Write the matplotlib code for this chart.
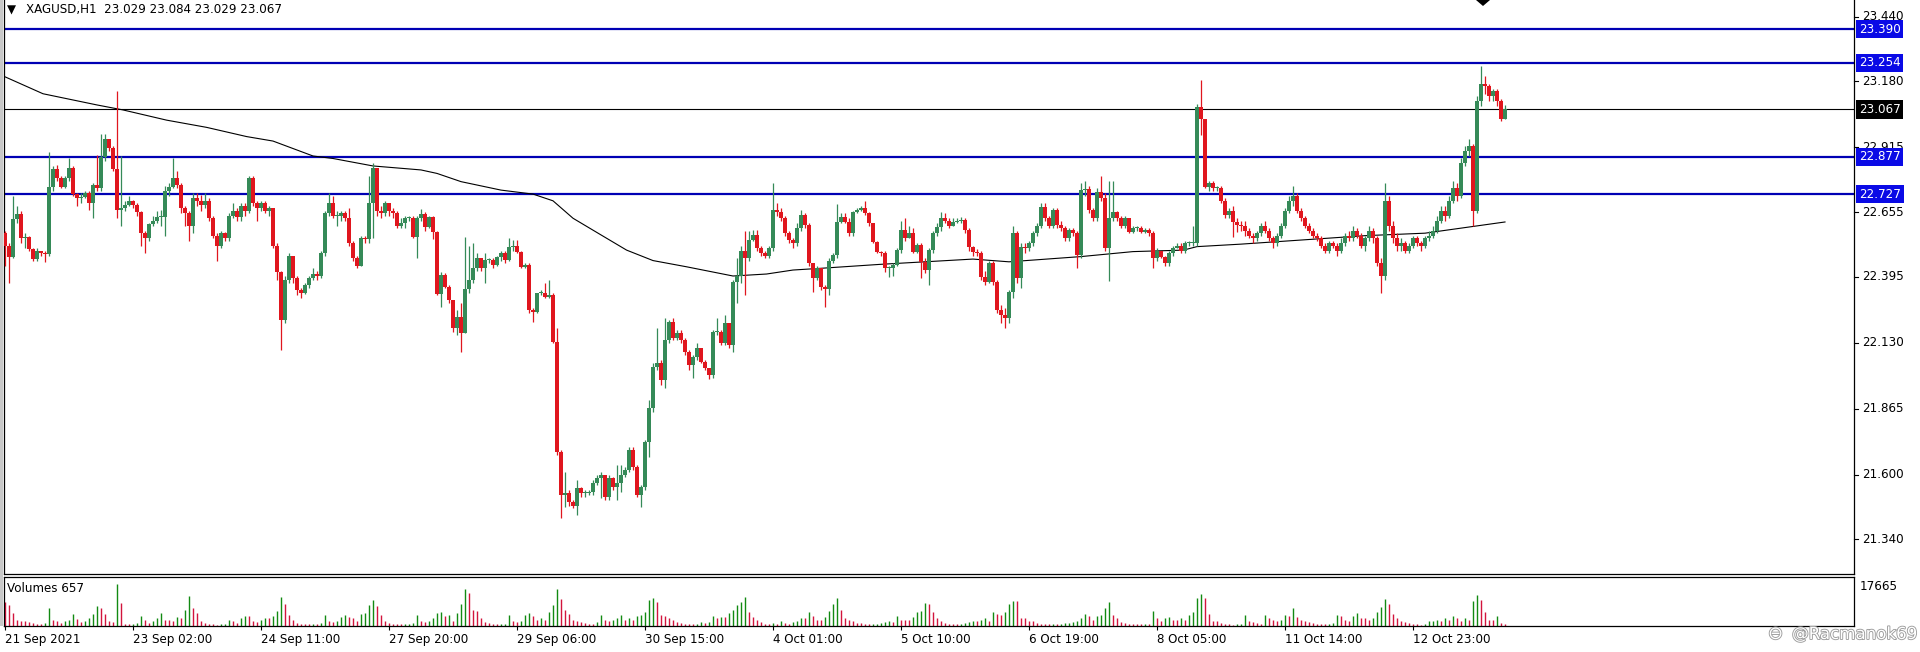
import numpy as np
import matplotlib
matplotlib.use('Agg')
import matplotlib.pyplot as plt
from matplotlib.patches import Rectangle, Polygon
from matplotlib.transforms import blended_transform_factory
import matplotlib.patheffects as pe

plt.rcParams['font.family'] = ['DejaVu Sans']

# ---- data (XAGUSD H1) ----
first_open = 22.57
closes = [
    22.52, 22.475, 22.625, 22.647, 22.55, 22.555, 22.505, 22.465, 22.50, 22.49,
    22.485, 22.754, 22.826, 22.79, 22.757, 22.79, 22.83, 22.727, 22.71, 22.716,
    22.73, 22.69, 22.763, 22.75, 22.874, 22.948, 22.913, 22.826, 22.663, 22.67,
    22.685, 22.70, 22.685, 22.655, 22.57, 22.55, 22.606, 22.62, 22.635, 22.635,
    22.74, 22.757, 22.79, 22.763, 22.67, 22.65, 22.60, 22.71, 22.70, 22.685,
    22.70, 22.63, 22.56, 22.52, 22.57, 22.55, 22.64, 22.66, 22.635, 22.68,
    22.66, 22.79, 22.69, 22.67, 22.69, 22.66, 22.67, 22.52, 22.415, 22.22,
    22.38, 22.48, 22.39, 22.34, 22.33, 22.36, 22.39, 22.405, 22.40, 22.49,
    22.65, 22.69, 22.64, 22.64, 22.65, 22.63, 22.53, 22.47, 22.44, 22.55,
    22.545, 22.69, 22.83, 22.66, 22.65, 22.69, 22.66, 22.65, 22.60, 22.61,
    22.63, 22.63, 22.556, 22.629, 22.647, 22.593, 22.636, 22.576, 22.326, 22.402,
    22.355, 22.302, 22.188, 22.235, 22.17, 22.344, 22.381, 22.429, 22.469, 22.429,
    22.462, 22.462, 22.442, 22.473, 22.49, 22.462, 22.513, 22.52, 22.496, 22.435,
    22.442, 22.261, 22.254, 22.328, 22.33, 22.312, 22.32, 22.134, 21.69, 21.518,
    21.528, 21.492, 21.474, 21.545, 21.525, 21.525, 21.532, 21.565, 21.585, 21.598,
    21.512, 21.585, 21.552, 21.565, 21.598, 21.618, 21.699, 21.632, 21.518, 21.552,
    21.733, 21.866, 22.034, 22.047, 21.98, 22.141, 22.215, 22.148, 22.17, 22.14,
    22.094, 22.04, 22.074, 22.107, 22.054, 22.027, 22.00, 22.174, 22.174, 22.128,
    22.208, 22.121, 22.375, 22.40, 22.50, 22.47, 22.543, 22.563, 22.51, 22.49,
    22.48, 22.51, 22.663, 22.655, 22.63, 22.57, 22.543, 22.53, 22.59, 22.643,
    22.603, 22.449, 22.389, 22.429, 22.355, 22.345, 22.46, 22.482, 22.616, 22.636,
    22.616, 22.57, 22.656, 22.663, 22.67, 22.65, 22.61, 22.536, 22.496, 22.49,
    22.429, 22.43, 22.442, 22.502, 22.583, 22.55, 22.57, 22.496, 22.522, 22.455,
    22.422, 22.502, 22.569, 22.596, 22.63, 22.62, 22.60, 22.616, 22.62, 22.623,
    22.583, 22.516, 22.496, 22.49, 22.395, 22.375, 22.449, 22.375, 22.262, 22.24,
    22.23, 22.335, 22.57, 22.39, 22.515, 22.51, 22.53, 22.57, 22.60, 22.676,
    22.63, 22.60, 22.663, 22.603, 22.59, 22.55, 22.583, 22.57, 22.483, 22.743,
    22.748, 22.663, 22.63, 22.737, 22.71, 22.51, 22.63, 22.656, 22.63, 22.60,
    22.63, 22.576, 22.59, 22.59, 22.576, 22.583, 22.57, 22.47, 22.50, 22.476,
    22.45, 22.49, 22.51, 22.52, 22.50, 22.53, 22.53, 22.53, 23.078, 23.03,
    22.757, 22.77, 22.75, 22.75, 22.70, 22.643, 22.66, 22.616, 22.603, 22.60,
    22.58, 22.56, 22.55, 22.57, 22.60, 22.58, 22.55, 22.53, 22.56, 22.60,
    22.66, 22.70, 22.72, 22.66, 22.63, 22.60, 22.58, 22.56, 22.55, 22.52,
    22.50, 22.53, 22.52, 22.50, 22.53, 22.56, 22.55, 22.58, 22.56, 22.52,
    22.55, 22.58, 22.55, 22.45, 22.40, 22.70, 22.60, 22.55, 22.52, 22.53,
    22.50, 22.52, 22.55, 22.53, 22.52, 22.55, 22.56, 22.58, 22.62, 22.66,
    22.64, 22.70, 22.75, 22.72, 22.85, 22.90, 22.92, 22.66, 23.10, 23.17,
    23.16, 23.12, 23.14, 23.10, 23.029, 23.067,
]
highs = [
    22.58, 22.53, 22.72, 22.68, 22.66, 22.57, 22.56, 22.51, 22.51, 22.50,
    22.50, 22.897, 22.84, 22.845, 22.80, 22.80, 22.87, 22.84, 22.73, 22.73,
    22.74, 22.74, 22.77, 22.884, 22.97, 22.97, 22.95, 22.92, 23.14, 22.88,
    22.70, 22.72, 22.705, 22.69, 22.66, 22.58, 22.61, 22.64, 22.66, 22.665,
    22.76, 22.77, 22.873, 22.82, 22.77, 22.68, 22.66, 22.73, 22.73, 22.725,
    22.73, 22.71, 22.64, 22.57, 22.58, 22.575, 22.65, 22.69, 22.67, 22.69,
    22.69, 22.80, 22.80, 22.70, 22.70, 22.70, 22.68, 22.67, 22.53, 22.42,
    22.40, 22.49, 22.48, 22.40, 22.35, 22.37, 22.40, 22.43, 22.42, 22.50,
    22.66, 22.73, 22.72, 22.66, 22.66, 22.66, 22.67, 22.54, 22.48, 22.56,
    22.56, 22.80, 22.85, 22.82, 22.68, 22.70, 22.69, 22.67, 22.66, 22.63,
    22.64, 22.64, 22.64, 22.64, 22.666, 22.656, 22.64, 22.64, 22.58, 22.415,
    22.41, 22.36, 22.30, 22.261, 22.29, 22.556, 22.518, 22.529, 22.489, 22.47,
    22.489, 22.47, 22.47, 22.48, 22.50, 22.50, 22.549, 22.542, 22.542, 22.50,
    22.45, 22.45, 22.27, 22.33, 22.34, 22.368, 22.38, 22.33, 22.188, 21.70,
    21.61, 21.54, 21.50, 21.58, 21.55, 21.54, 21.54, 21.58, 21.60, 21.61,
    21.60, 21.60, 21.59, 21.64, 21.64, 21.63, 21.71, 21.71, 21.64, 21.56,
    21.74, 21.90, 22.048, 22.19, 22.06, 22.23, 22.22, 22.23, 22.18, 22.18,
    22.15, 22.10, 22.08, 22.13, 22.11, 22.06, 22.03, 22.18, 22.23, 22.18,
    22.24, 22.21, 22.38, 22.47, 22.52, 22.58, 22.58, 22.584, 22.584, 22.52,
    22.50, 22.52, 22.77, 22.69, 22.67, 22.64, 22.58, 22.55, 22.61, 22.665,
    22.65, 22.61, 22.45, 22.44, 22.43, 22.36, 22.47, 22.49, 22.686, 22.65,
    22.65, 22.63, 22.66, 22.67, 22.68, 22.70, 22.655, 22.61, 22.54, 22.50,
    22.50, 22.44, 22.45, 22.51, 22.62, 22.63, 22.60, 22.59, 22.53, 22.53,
    22.47, 22.51, 22.58, 22.61, 22.656, 22.65, 22.63, 22.63, 22.63, 22.635,
    22.63, 22.59, 22.52, 22.505, 22.50, 22.42, 22.46, 22.46, 22.38, 22.28,
    22.27, 22.34, 22.60, 22.58, 22.53, 22.53, 22.54, 22.58, 22.61, 22.69,
    22.69, 22.64, 22.67, 22.67, 22.62, 22.60, 22.59, 22.59, 22.58, 22.77,
    22.78, 22.76, 22.67, 22.75, 22.80, 22.73, 22.78, 22.78, 22.66, 22.64,
    22.64, 22.63, 22.60, 22.60, 22.60, 22.59, 22.59, 22.58, 22.51, 22.50,
    22.48, 22.50, 22.52, 22.53, 22.53, 22.54, 22.54, 22.60, 23.09, 23.185,
    23.03, 22.78, 22.78, 22.76, 22.76, 22.71, 22.67, 22.68, 22.63, 22.62,
    22.62, 22.59, 22.57, 22.58, 22.61, 22.62, 22.59, 22.56, 22.57, 22.61,
    22.67, 22.72, 22.76, 22.73, 22.67, 22.64, 22.61, 22.59, 22.57, 22.56,
    22.53, 22.54, 22.54, 22.53, 22.55, 22.57, 22.58, 22.60, 22.59, 22.57,
    22.56, 22.60, 22.59, 22.56, 22.47, 22.77, 22.72, 22.62, 22.57, 22.55,
    22.54, 22.53, 22.56, 22.56, 22.54, 22.56, 22.58, 22.60, 22.64, 22.68,
    22.68, 22.72, 22.78, 22.77, 22.87, 22.92, 22.95, 22.93, 23.12, 23.24,
    23.20, 23.17, 23.15, 23.15, 23.11, 23.084,
]
lows = [
    22.44, 22.37, 22.47, 22.61, 22.53, 22.51, 22.50, 22.46, 22.46, 22.48,
    22.455, 22.48, 22.74, 22.78, 22.75, 22.75, 22.78, 22.72, 22.68, 22.69,
    22.71, 22.665, 22.63, 22.74, 22.74, 22.86, 22.90, 22.82, 22.63, 22.60,
    22.66, 22.68, 22.67, 22.64, 22.52, 22.49, 22.54, 22.60, 22.61, 22.60,
    22.56, 22.72, 22.75, 22.75, 22.65, 22.60, 22.54, 22.57, 22.68, 22.66,
    22.67, 22.62, 22.55, 22.46, 22.51, 22.54, 22.54, 22.63, 22.62, 22.62,
    22.64, 22.65, 22.68, 22.62, 22.66, 22.65, 22.64, 22.51, 22.38, 22.10,
    22.21, 22.37, 22.37, 22.32, 22.31, 22.325, 22.35, 22.38, 22.38, 22.39,
    22.48, 22.64, 22.63, 22.60, 22.62, 22.62, 22.52, 22.46, 22.43, 22.44,
    22.53, 22.53, 22.55, 22.64, 22.63, 22.64, 22.64, 22.63, 22.59, 22.59,
    22.59, 22.62, 22.55, 22.469, 22.62, 22.58, 22.59, 22.545, 22.32, 22.272,
    22.35, 22.29, 22.174, 22.161, 22.094, 22.174, 22.33, 22.37, 22.42, 22.42,
    22.371, 22.45, 22.43, 22.44, 22.46, 22.45, 22.46, 22.50, 22.49, 22.43,
    22.43, 22.248, 22.214, 22.25, 22.32, 22.31, 22.31, 22.13, 21.68, 21.425,
    21.47, 21.474, 21.465, 21.44, 21.51, 21.51, 21.52, 21.52, 21.56, 21.505,
    21.50, 21.50, 21.54, 21.50, 21.53, 21.59, 21.61, 21.62, 21.51, 21.47,
    21.54, 21.67, 21.85, 22.02, 21.96, 21.95, 22.13, 22.14, 22.14, 22.13,
    22.08, 22.02, 21.99, 22.06, 22.05, 22.02, 21.985, 21.99, 22.16, 22.12,
    22.12, 22.11, 22.093, 22.29, 22.37, 22.32, 22.46, 22.54, 22.50, 22.48,
    22.47, 22.47, 22.50, 22.64, 22.62, 22.56, 22.53, 22.51, 22.52, 22.58,
    22.59, 22.44, 22.335, 22.38, 22.34, 22.275, 22.32, 22.45, 22.47, 22.61,
    22.61, 22.56, 22.56, 22.65, 22.66, 22.645, 22.60, 22.53, 22.49, 22.48,
    22.415, 22.395, 22.40, 22.44, 22.49, 22.54, 22.55, 22.49, 22.49, 22.39,
    22.41, 22.36, 22.49, 22.56, 22.58, 22.61, 22.59, 22.60, 22.61, 22.61,
    22.57, 22.50, 22.48, 22.48, 22.38, 22.36, 22.37, 22.36, 22.25, 22.21,
    22.19, 22.21, 22.31, 22.37, 22.35, 22.49, 22.50, 22.52, 22.56, 22.59,
    22.62, 22.59, 22.59, 22.59, 22.58, 22.54, 22.54, 22.56, 22.43, 22.47,
    22.72, 22.65, 22.62, 22.62, 22.70, 22.50, 22.376, 22.62, 22.62, 22.59,
    22.59, 22.57, 22.57, 22.58, 22.57, 22.57, 22.56, 22.43, 22.46, 22.47,
    22.44, 22.44, 22.48, 22.51, 22.49, 22.49, 22.52, 22.52, 22.52, 22.965,
    22.75, 22.74, 22.74, 22.74, 22.69, 22.63, 22.63, 22.555, 22.575, 22.58,
    22.56, 22.55, 22.53, 22.54, 22.56, 22.57, 22.54, 22.51, 22.52, 22.55,
    22.59, 22.65, 22.68, 22.65, 22.62, 22.59, 22.57, 22.55, 22.54, 22.51,
    22.49, 22.49, 22.51, 22.48, 22.49, 22.52, 22.54, 22.54, 22.55, 22.51,
    22.50, 22.54, 22.53, 22.44, 22.33, 22.38, 22.58, 22.53, 22.50, 22.50,
    22.49, 22.49, 22.51, 22.52, 22.50, 22.51, 22.54, 22.55, 22.57, 22.61,
    22.62, 22.63, 22.69, 22.70, 22.71, 22.84, 22.88, 22.60, 22.65, 23.08,
    23.13, 23.10, 23.10, 23.08, 23.02, 23.029,
]
volumes = [
    9000, 7800, 4800, 2400, 2000, 1800, 1500, 1200, 900, 800,
    1000, 6600, 2400, 1800, 1200, 1800, 2400, 4400, 2800, 1500,
    2000, 3000, 4400, 7440, 6600, 4440, 1800, 1500, 15840, 8640,
    800, 600, 900, 1200, 3600, 2400, 1200, 1800, 3000, 4700,
    2400, 2400, 1800, 3240, 3000, 6000, 11160, 6600, 4800, 1800,
    1200, 900, 600, 500, 700, 900, 2400, 1800, 1200, 3000,
    3600, 3600, 2000, 1500, 2400, 3000, 3000, 3600, 5640, 10800,
    8400, 4200, 2400, 1200, 900, 700, 600, 800, 600, 1000,
    4200, 2000, 1500, 1800, 3240, 4000, 3240, 3000, 2000, 4440,
    5000, 7800, 9600, 7440, 4200, 1800, 1200, 900, 700, 600,
    800, 900, 1200, 4200, 2000, 1500, 1800, 3000, 4800, 5160,
    3600, 4200, 2000, 5000, 8400, 13800, 12360, 6000, 5640, 3000,
    1500, 1000, 800, 600, 700, 900, 4200, 2000, 1500, 2000,
    4200, 4800, 3600, 2400, 3000, 2400, 5400, 8040, 13800, 10200,
    6000, 4440, 2400, 2000, 1500, 1200, 800, 600, 1500, 4200,
    2400, 1800, 2400, 3000, 4200, 2400, 3000, 2400, 3600, 4000,
    5400, 9600, 10440, 9000, 4200, 3600, 3000, 2400, 1500, 1200,
    900, 700, 600, 900, 1500, 1200, 1500, 3600, 3000, 3240,
    3240, 4800, 6000, 7800, 9000, 10800, 5400, 3240, 2400, 1500,
    900, 600, 1200, 800, 2000, 1200, 900, 1500, 1800, 3000,
    3000, 5160, 3600, 2400, 2400, 3240, 5640, 8400, 10440, 6000,
    3000, 2400, 1800, 1200, 1000, 800, 600, 700, 900, 1200,
    1500, 1800, 1500, 3840, 2400, 2400, 2400, 3240, 5400, 5640,
    8640, 8400, 5160, 3000, 1800, 1200, 900, 700, 600, 800,
    1200, 1500, 2000, 1800, 2400, 3000, 1800, 5400, 4440, 4200,
    5400, 8400, 9360, 9240, 3000, 3000, 1800, 1800, 1200, 900,
    700, 600, 800, 700, 900, 1000, 1200, 1500, 1800, 3000,
    4440, 3600, 2400, 3600, 4000, 6600, 9000, 4200, 3000, 1500,
    1200, 900, 700, 600, 600, 800, 700, 5640, 3000, 1800,
    3000, 3240, 2400, 2400, 3000, 2400, 4200, 5400, 10440, 12000,
    10440, 4440, 2040, 1800, 1200, 900, 700, 500, 600, 900,
    4200, 2040, 1560, 1200, 900, 4200, 3000, 2400, 2000, 2400,
    4200, 3600, 6600, 3240, 2400, 1800, 1500, 1200, 900, 700,
    600, 800, 1000, 4200, 3600, 2400, 2000, 3600, 4800, 3000,
    3000, 2400, 3000, 5400, 7000, 9960, 8160, 4440, 3000, 1800,
    1500, 1200, 900, 600, 500, 800, 1800, 2000, 2400, 1800,
    3000, 2400, 3840, 3000, 1800, 3000, 2400, 9240, 11640, 9840,
    5400, 2400, 2400, 3600, 1200, 657,
]
# 200-period moving average, read at bar positions
ma_bar = [0, 9.5, 23, 29.5, 40.4, 50.4, 60.4, 67, 77, 82, 92, 104, 108, 114, 124,
          132, 137, 142, 149, 155.4, 162, 170.4, 182, 190.4, 197, 204, 219, 242,
          251, 269, 282, 294.6, 298, 309, 340, 355, 375]
ma_val = [23.198, 23.13, 23.085, 23.065, 23.024, 22.995, 22.958, 22.94, 22.88,
          22.87, 22.84, 22.824, 22.81, 22.777, 22.743, 22.727, 22.70, 22.63,
          22.563, 22.502, 22.46, 22.435, 22.398, 22.406, 22.422, 22.429, 22.445,
          22.466, 22.455, 22.476, 22.496, 22.502, 22.516, 22.526, 22.56, 22.57,
          22.615]

blue_levels = [23.390, 23.254, 22.877, 22.727]
last_price = 23.067
price_ticks = [23.440, 23.180, 22.915, 22.655, 22.395, 22.130, 21.865, 21.600, 21.340]
time_tick_bars = [0, 32, 64, 96, 128, 160, 192, 224, 256, 288, 320, 352]
time_labels = ['21 Sep 2021', '23 Sep 02:00', '24 Sep 11:00', '27 Sep 20:00',
               '29 Sep 06:00', '30 Sep 15:00', '4 Oct 01:00', '5 Oct 10:00',
               '6 Oct 19:00', '8 Oct 05:00', '11 Oct 14:00', '12 Oct 23:00']
vol_max = 17665

# ---- figure ----
W, H = 1920, 652
fig = plt.figure(figsize=(W / 100, H / 100), dpi=100)
fig.patch.set_facecolor('white')

def fx(px):
    return px / W

def fy(py):
    return 1 - py / H

ax = fig.add_axes([fx(4), fy(574), fx(1854) - fx(4), fy(0) - fy(574)])
axv = fig.add_axes([fx(4), fy(626), fx(1854) - fx(4), fy(577) - fy(626)])

n = min(len(closes), len(highs), len(lows), len(volumes))
c = np.array(closes[:n])
o = np.concatenate([[first_open], c[:-1]])
h = np.maximum(np.array(highs[:n]), np.maximum(o, c))
l = np.minimum(np.array(lows[:n]), np.minimum(o, c))
x = np.arange(n)

GREEN = '#358a58'
RED = '#e0161e'
cols = np.where(c >= o, GREEN, RED)

x_lo, x_hi = -0.25, (1854 - 5) / 4
ax.set_xlim(x_lo, x_hi)
ax.set_ylim(21.2012, 23.5065)

for lv in blue_levels:
    ax.axhline(lv, color='#0000b4', lw=1.6, zorder=1)
ax.axhline(last_price, color='black', lw=0.8, zorder=1)

ax.plot(ma_bar, ma_val, color='black', lw=0.8, zorder=2)

ax.vlines(x, l, h, colors=cols, linewidth=0.9, zorder=3)
body = np.maximum(np.abs(c - o), 0.004)
ax.bar(x, body, bottom=np.minimum(o, c), width=0.78, color=cols, linewidth=0, zorder=4)

ax.set_xticks([])
ax.set_yticks([])
ax.spines['top'].set_visible(False)
for s in ['left', 'right', 'bottom']:
    ax.spines[s].set_linewidth(0.9)

trans = blended_transform_factory(ax.transAxes, ax.transData)
tick_len = 4 / 1850
for p in price_ticks:
    ax.plot([1.0, 1.0 + tick_len], [p, p], transform=trans, color='black', lw=0.8, clip_on=False)
    ax.text(1.0 + 8 / 1850, p, f'{p:.3f}', transform=trans, va='center', ha='left',
            fontsize=8.6, color='black', clip_on=False)
for lv in blue_levels:
    ax.text(1.0 + 5 / 1850, lv, f'{lv:.3f}', transform=trans, va='center', ha='left',
            fontsize=8.6, color='white', clip_on=False, zorder=6,
            bbox=dict(boxstyle='square,pad=0.22', fc='#0a0ae6', ec='none'))
ax.text(1.0 + 5 / 1850, last_price, f'{last_price:.3f}', transform=trans, va='center',
        ha='left', fontsize=8.6, color='white', clip_on=False, zorder=6,
        bbox=dict(boxstyle='square,pad=0.22', fc='black', ec='none'))

# ---- volumes ----
v = np.array(volumes[:n], dtype=float)
vcols = ['#d2143c'] + ['#128a12' if v[i] > v[i - 1] else '#d2143c' for i in range(1, n)]
axv.vlines(x, 0, v, colors=vcols, linewidth=1.0)
axv.set_xlim(x_lo, x_hi)
axv.set_ylim(0, vol_max * 1.04)
axv.set_yticks([])
for s in ['top', 'left', 'right', 'bottom']:
    axv.spines[s].set_linewidth(0.9)
axv.set_xticks(time_tick_bars)
axv.set_xticklabels(time_labels, ha='left', fontsize=8.6)
axv.tick_params(axis='x', length=3, width=0.8, pad=2)

# ---- texts ----
fig.text(fx(7), fy(10), '\u25BC', fontsize=8.5, va='center', ha='left')
fig.text(fx(26), fy(10), 'XAGUSD,H1  23.029 23.084 23.029 23.067', fontsize=8.6,
         va='center', ha='left')
fig.text(fx(7), fy(589), 'Volumes 657', fontsize=8.6, va='center', ha='left')
fig.text(fx(1860), fy(586), '17665', fontsize=8.6, va='center', ha='left')
wm = [pe.withStroke(linewidth=1.3, foreground='#9c9c9c')]
fig.text(fx(1768), fy(634), '\u2296', fontsize=13, va='center', ha='left',
         color='white', path_effects=wm)
fig.text(fx(1792), fy(634), '@Racmanok69', fontsize=12, va='center', ha='left',
         color='white', path_effects=wm)

# left window border and top marker
fig.patches.append(Rectangle((0, fy(626)), fx(3), fy(0) - fy(626), transform=fig.transFigure,
                             fc='#c8c8c8', ec='none'))
fig.patches.append(Polygon([[fx(1476), fy(0)], [fx(1490), fy(0)], [fx(1483), fy(6)]],
                           closed=True, transform=fig.transFigure, fc='black', ec='none'))

fig.savefig('out.png', dpi=100, facecolor='white')
